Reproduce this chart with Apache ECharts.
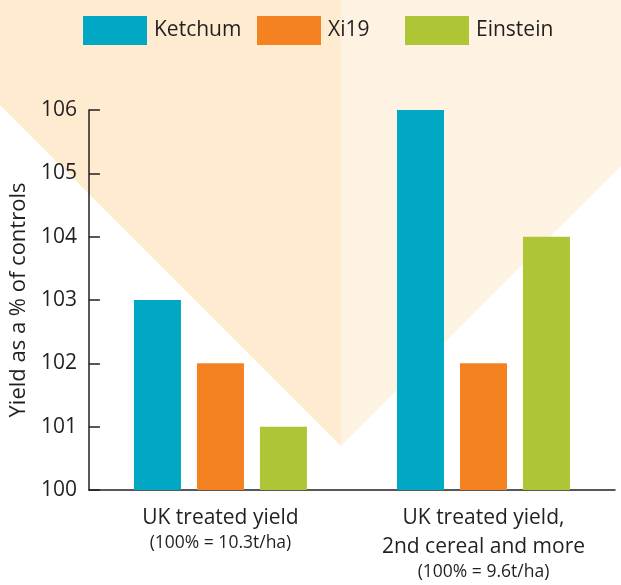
<!DOCTYPE html>
<html><head><meta charset="utf-8">
<script src="https://cdn.jsdelivr.net/npm/echarts@6/dist/echarts.min.js"></script>
<style>html,body{margin:0;padding:0;background:#fff}#c{width:621px;height:585px}</style>
</head><body><div id="c"></div>
<script>
const categories = ['UK treated yield', 'UK treated yield,\n2nd cereal and more'];
const subLabels = ['(100% = 10.3t/ha)', '(100% = 9.6t/ha)'];
const seriesNames = ['Ketchum', 'Xi19', 'Einstein'];
const ketchum = [103, 106];
const xi19 = [102, 102];
const einstein = [101, 104];
const colors = ['#00A8C3', '#F58220', '#AEC536'];
const legendLefts = [83, 257, 405];
const FONT = 'Open Sans';
const TXT = '#231F20';
const W = 500;

const chart = echarts.init(document.getElementById('c'));
const values = [ketchum, xi19, einstein];
chart.setOption({
  animation: false,
  textStyle: {fontFamily: FONT, color: TXT, fontWeight: W},
  graphic: [
    {type: 'polygon', z: -10, shape: {points: [[0,0],[341,0],[341,446],[0,105]]}, style: {fill: '#FEEBD0'}},
    {type: 'polygon', z: -10, shape: {points: [[341,0],[621,0],[621,166],[341,446]]}, style: {fill: '#FEF2E3'}}
  ],
  legend: seriesNames.map((n, k) => ({
    top: 16, left: legendLefts[k], padding: 0,
    itemWidth: 64, itemHeight: 29,
    textStyle: {fontFamily: FONT, fontSize: 21, color: TXT, fontWeight: W, padding: [0,0,0,2]},
    icon: 'rect',
    data: [n]
  })),
  grid: {left: 85, right: 6, top: 110, bottom: 95},
  xAxis: {
    type: 'category', data: categories,
    axisLine: {lineStyle: {color: TXT, width: 1.5}},
    axisTick: {inside: true, length: 11, lineStyle: {color: TXT, width: 1.5}},
    axisLabel: {
      margin: 14,
      formatter: (v, i) => v.split('\n').map(s => '{m|' + s + '}').join('\n') + '\n{s|' + subLabels[i] + '}',
      rich: {
        m: {fontFamily: FONT, fontSize: 21, color: TXT, fontWeight: W, lineHeight: 29},
        s: {fontFamily: FONT, fontSize: 17.5, color: TXT, fontWeight: W, lineHeight: 21}
      }
    }
  },
  yAxis: {
    type: 'value', min: 100, max: 106, interval: 1,
    name: 'Yield as a % of controls', nameLocation: 'middle', nameGap: 56,
    nameTextStyle: {fontFamily: FONT, fontSize: 22, color: TXT, fontWeight: W},
    axisLine: {show: true, lineStyle: {color: TXT, width: 1.5}},
    axisTick: {show: true, inside: true, length: 11, lineStyle: {color: TXT, width: 1.5}},
    axisLabel: {fontFamily: FONT, fontSize: 21, color: TXT, fontWeight: W, margin: 12},
    splitLine: {show: false}
  },
  series: seriesNames.map((n, k) => ({
    name: n, type: 'bar', data: values[k],
    barWidth: 47, barGap: '34%',
    itemStyle: {color: colors[k]}
  }))
});
</script></body></html>
